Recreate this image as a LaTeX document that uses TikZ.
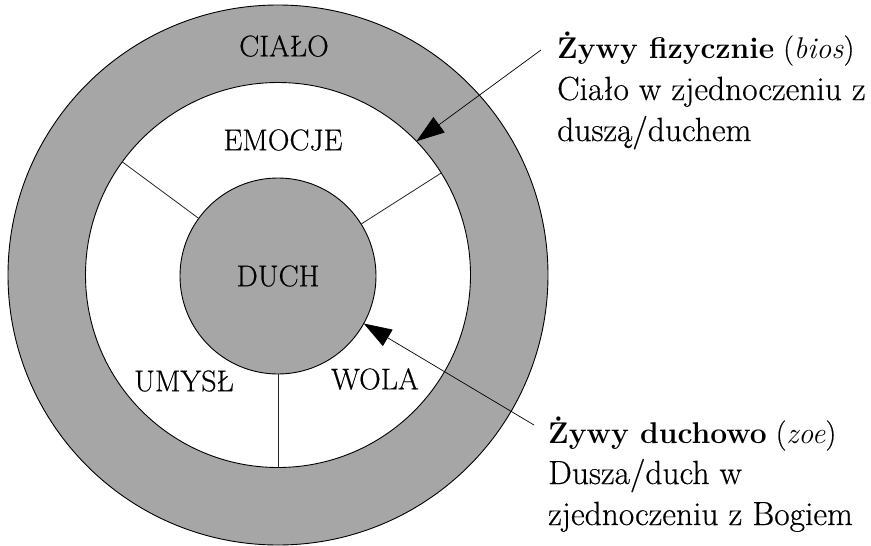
\documentclass[tikz,border=0pt]{standalone}
\usepackage{fontspec}
\setmainfont{Latin Modern Roman}[UprightFeatures={FakeBold=0.5}]
\usetikzlibrary{arrows.meta}
\definecolor{ringgray}{RGB}{166,166,166}
\begin{document}
\begin{tikzpicture}[x=1pt,y=-1pt,
  ring/.style={circle, draw=black, line width=0.9pt, inner sep=0pt, outer sep=0pt},
  divider/.style={draw=black!85, line width=0.8pt},
  pointer/.style={draw=black, line width=0.7pt, -{Triangle[length=28pt,width=19pt]}},
  caplabel/.style={font=\fontsize{30}{34}\selectfont, inner sep=0pt},
  note/.style={font=\fontsize{33.5}{42}\selectfont, anchor=base west, inner sep=0pt},
  headnote/.style={font=\fontsize{30}{42}\selectfont, anchor=base west, inner sep=0pt}]
\useasboundingbox (0,0) rectangle (871,546);
\node[ring, fill=ringgray, minimum size=540pt] (body) at (278,275) {};
\node[ring, fill=white, minimum size=385pt] (soul) at (278,275) {};
\node[ring, fill=ringgray, minimum size=196pt, caplabel] (spirit) at (278,276) {DUCH};
\draw[divider] (soul.144) -- (spirit.144);
\draw[divider] (soul.32) -- (spirit.32);
\draw[divider] (soul.270) -- (spirit.270);
\node[caplabel] (cialo) at (284,46) {CIAŁO};
\node[caplabel] (emocje) at (283,140) {EMOCJE};
\node[caplabel] (umysl) at (184,381) {UMYSŁ};
\node[caplabel] (wola) at (375,379) {WOLA};
\node[headnote] (t1a) at (557,58) {\textbf{Żywy fizycznie} (\textit{bios})};
\node[note] (t1b) at (557,100) {Ciało w zjednoczeniu z};
\node[note] (t1c) at (557,141) {duszą/duchem};
\node[headnote] (t2a) at (548,443) {\textbf{Żywy duchowo} (\textit{zoe})};
\node[note] (t2b) at (548,484) {Dusza/duch w};
\node[note] (t2c) at (548,525) {zjednoczeniu z Bogiem};
\coordinate (p1) at (541,50);
\coordinate (p2) at (534,425);
\draw[pointer] (p1) -- (soul.44);
\draw[pointer] (p2) -- (spirit.-29);
\end{tikzpicture}
\end{document}
